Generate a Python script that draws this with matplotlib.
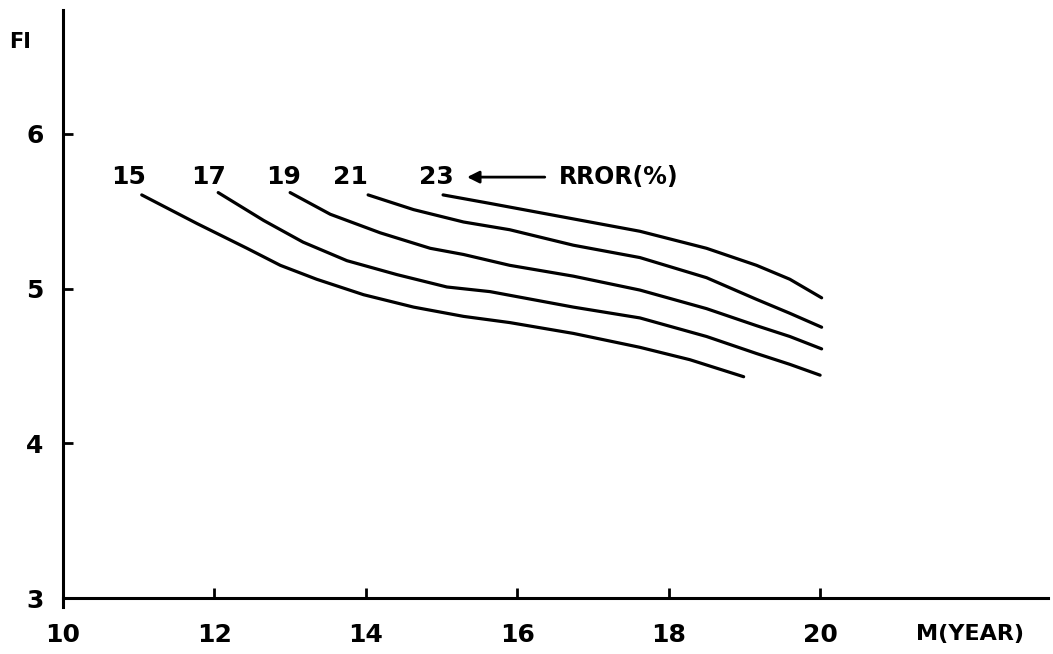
import matplotlib.pyplot as plt

m_15 = [11.04, 11.77, 12.43, 12.87, 13.35, 13.97, 14.63, 15.29, 15.9,
        16.74, 17.62, 18.28, 18.99]
fi_15 = [5.605, 5.42, 5.26, 5.15, 5.06, 4.96, 4.88, 4.82, 4.78,
         4.71, 4.62, 4.54, 4.43]

m_17 = [12.05, 12.65, 13.17, 13.75, 14.41, 15.07, 15.64, 16.74, 17.62,
        18.5, 19.16, 19.6, 20.0]
fi_17 = [5.62, 5.44, 5.30, 5.18, 5.09, 5.01, 4.98, 4.88, 4.81,
         4.69, 4.58, 4.51, 4.44]

m_19 = [13.0, 13.53, 14.19, 14.85, 15.29, 15.9, 16.74, 17.62, 18.5,
        19.16, 19.6, 20.02]
fi_19 = [5.62, 5.48, 5.36, 5.26, 5.22, 5.15, 5.08, 4.99, 4.87,
         4.76, 4.69, 4.61]

m_21 = [14.03, 14.63, 15.29, 15.9, 16.74, 17.62, 18.5, 19.16, 19.6, 20.02]
fi_21 = [5.605, 5.51, 5.43, 5.38, 5.28, 5.20, 5.07, 4.93, 4.84, 4.75]

m_23 = [15.02, 15.64, 16.74, 17.62, 18.5, 19.16, 19.6, 20.02]
fi_23 = [5.605, 5.55, 5.45, 5.37, 5.26, 5.15, 5.06, 4.94]

curves = [("15", m_15, fi_15), ("17", m_17, fi_17), ("19", m_19, fi_19),
          ("21", m_21, fi_21), ("23", m_23, fi_23)]
label_x = [10.86, 11.92, 12.91, 13.8, 14.93]
label_y = 5.72

x_ticks = [10, 12, 14, 16, 18, 20]
y_ticks = [3, 4, 5, 6]

fig = plt.figure(figsize=(10.53, 6.54), dpi=100)
ax = fig.add_axes([63 / 1053, 56 / 654, 985 / 1053, 588 / 654])

for (name, m, fi), lx in zip(curves, label_x):
    ax.plot(m, fi, color='black', linewidth=2.3, solid_capstyle='round',
            solid_joinstyle='round')
    ax.text(lx, label_y, name, fontsize=18, fontweight='bold',
            ha='center', va='center')

ax.annotate('', xy=(15.3, label_y), xytext=(16.4, label_y),
            arrowprops=dict(arrowstyle='-|>', color='black', lw=2,
                            mutation_scale=18))
ax.text(16.55, label_y, 'RROR(%)', fontsize=17, fontweight='bold',
        ha='left', va='center')

ax.set_xlim(10, 23.01)
ax.set_ylim(3, 6.8)
ax.set_xticks(x_ticks)
ax.set_yticks(y_ticks)
ax.set_xticklabels([str(v) for v in x_ticks])
ax.set_yticklabels([str(v) for v in y_ticks])

for side in ['top', 'right']:
    ax.spines[side].set_visible(False)
ax.spines['left'].set_linewidth(2.2)
ax.spines['bottom'].set_linewidth(2.2)
ax.spines['left'].set_bounds(2.94, 6.8)

ax.tick_params(axis='both', direction='in', length=7, width=2,
               labelsize=18)
ax.tick_params(axis='x', pad=18)
ax.tick_params(axis='y', pad=14)
for lab in ax.get_xticklabels() + ax.get_yticklabels():
    lab.set_fontweight('bold')

fig.text(20 / 1053, 1 - 42 / 654, 'FI', fontsize=15, fontweight='bold',
         ha='center', va='center')
fig.text(970 / 1053, 1 - 634 / 654, 'M(YEAR)', fontsize=16,
         fontweight='bold', ha='center', va='center')

fig.savefig('out.png', dpi=100)
